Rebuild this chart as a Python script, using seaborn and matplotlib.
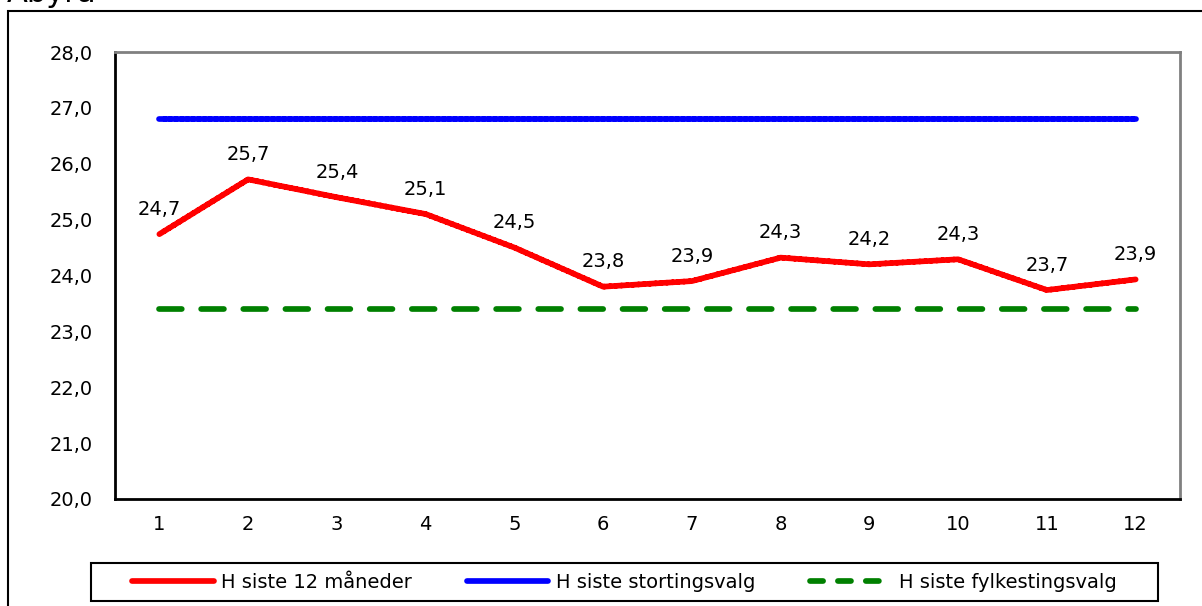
import matplotlib.pyplot as plt
import matplotlib.patches as mpatches
import numpy as np
import pandas as pd
import seaborn as sns

months = list(range(1, 13))
siste_12 = [24.74, 25.72, 25.4, 25.1, 24.5, 23.8, 23.9, 24.32, 24.2, 24.29, 23.74, 23.93]
storting = [26.8] * 12
fylkesting = [23.4] * 12

names = ["H siste 12 måneder", "H siste stortingsvalg", "H siste fylkestingsvalg"]
colors = ["#ff0000", "#0000ff", "#008000"]

df = pd.DataFrame({
    "Måned": months * 3,
    "Verdi": siste_12 + storting + fylkesting,
    "Serie": [names[0]] * 12 + [names[1]] * 12 + [names[2]] * 12,
})

sns.set_style("white")
plt.rcParams["font.family"] = ["DejaVu Sans"]
plt.rcParams["text.color"] = "black"
plt.rcParams["xtick.color"] = "black"
plt.rcParams["ytick.color"] = "black"

fig = plt.figure(figsize=(12.02, 6.06), dpi=100)
ax = fig.add_axes([115 / 1202, 1 - 499 / 606, (1180 - 115) / 1202, (499 - 52) / 606])

sns.lineplot(data=df, x="Måned", y="Verdi", hue="Serie", style="Serie",
             palette=colors, dashes=[(1, 0), (1, 0), (4.0, 3.4)],
             linewidth=4.1, ax=ax, legend=False)
for ln in ax.get_lines():
    ln.set_solid_capstyle("round")
    ln.set_dash_capstyle("round")

# data labels above the red line
for x, v in zip(months, siste_12):
    ax.annotate(f"{v:.1f}".replace(".", ","), (x, v), xytext=(0, 14),
                textcoords="offset points", ha="center", va="baseline",
                fontsize=14, color="black")

ax.set_xlim(0.5, 12.5)
ax.set_ylim(20, 28)
ax.set_xticks(np.arange(0.5, 12.6, 1))
ax.set_xticks(months, minor=True)
ax.set_xticklabels([])
ax.set_xticklabels([str(m) for m in months], minor=True)
ax.tick_params(axis="x", which="major", direction="out", length=5, width=1.5, color="black")
ax.tick_params(axis="x", which="minor", length=0, pad=11.5, labelsize=14, labelcolor="black")
yt = np.arange(20, 28.1, 1)
ax.set_yticks(yt)
ax.set_yticklabels([f"{v:.1f}".replace(".", ",") for v in yt])
ax.tick_params(axis="y", direction="out", length=5, width=1.5, color="black", pad=11,
               labelsize=14, labelcolor="black")
ax.set_xlabel("")
ax.set_ylabel("")

for s in ["left", "bottom"]:
    ax.spines[s].set_color("black")
    ax.spines[s].set_linewidth(2)
for s in ["top", "right"]:
    ax.spines[s].set_color("#808080")
    ax.spines[s].set_linewidth(2)

handles = [plt.Line2D([], [], color=colors[0], lw=4.1, solid_capstyle="round"),
           plt.Line2D([], [], color=colors[1], lw=4.1, solid_capstyle="round"),
           plt.Line2D([], [], color=colors[2], lw=4.1, linestyle=(0, (2.3, 2.6)),
                      dash_capstyle="round")]
leg = fig.legend(handles, names, loc="center", ncol=3,
                 bbox_to_anchor=((91 + 1158) / 2 / 1202, 1 - 582 / 606),
                 frameon=False, fontsize=14, handlelength=4.2,
                 columnspacing=2.8, handletextpad=0.4, borderpad=0.45, borderaxespad=0)
for t in leg.get_texts():
    t.set_color("black")

# legend box
fig.patches.append(mpatches.Rectangle((91 / 1202, 1 - 601 / 606), (1158 - 91) / 1202, 38 / 606,
                                      transform=fig.transFigure, fill=False,
                                      edgecolor="black", linewidth=1.5))
# outer chart border
fig.patches.append(mpatches.Rectangle((8 / 1202, -0.1), 1.2, 1 - 11 / 606 + 0.1,
                                      transform=fig.transFigure, fill=False,
                                      edgecolor="black", linewidth=1.5))
fig.text(0.006, 1 - 2 / 606, "Abyrå", fontsize=22, va="baseline")

fig.savefig("out.png", dpi=100)
